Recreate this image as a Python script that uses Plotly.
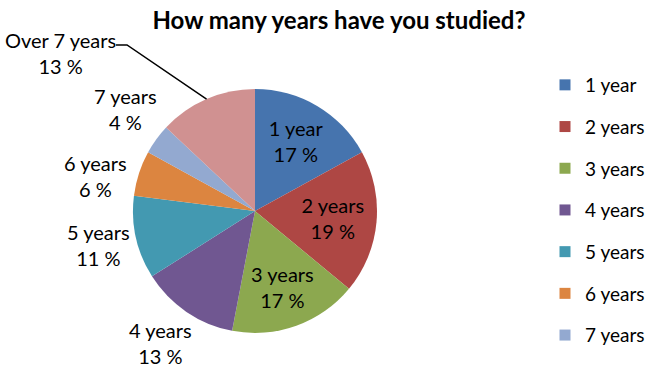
import math
import plotly.graph_objects as go

# Survey answers: share of respondents by years of study
categories = ["1 year", "2 years", "3 years", "4 years", "5 years",
              "6 years", "7 years", "Over 7 years"]
shares = [17, 19, 17, 13, 11, 6, 4, 13]
colors = ["#4674ae", "#ae4744", "#8ca84f", "#705791", "#4399b1",
          "#dc8540", "#93a9d0", "#d09191"]

W, H = 648, 368
FONT = "Lato, Carlito, Calibri, sans-serif"


def px(x):
    return x / W


def py(y):
    return 1 - y / H


# Pie geometry in pixels
cx, cy, r = 255, 211, 122

inside = {0, 1, 2}
textpos = ["inside" if i in inside else "none" for i in range(len(shares))]

fig = go.Figure()
fig.add_trace(go.Pie(
    labels=categories,
    values=shares,
    sort=False,
    direction="clockwise",
    rotation=0,
    marker=dict(colors=colors, line=dict(width=0)),
    texttemplate="%{label}<br>%{value} %",
    textposition=textpos,
    insidetextorientation="horizontal",
    textfont=dict(family=FONT, size=20, color="#000000"),
    domain=dict(x=[px(cx - r), px(cx + r)], y=[py(cy + r), py(cy - r)]),
    showlegend=False,
    hoverinfo="label+value",
))

# Legend entries (first seven categories)
for i in range(7):
    fig.add_trace(go.Scatter(
        x=[None], y=[None], mode="markers", name=categories[i],
        marker=dict(symbol="square", size=11, color=colors[i]),
        legendgroup=categories[i], showlegend=True,
    ))

# Outside data labels, positioned in pixels (centre of text block)
label_pos = {3: (160, 343), 4: (98, 245), 5: (95, 176), 6: (125, 109), 7: (60, 53)}
annotations = []
for i, (x, y) in label_pos.items():
    annotations.append(dict(
        x=px(x), y=py(y), xref="paper", yref="paper",
        text=f"{categories[i]}<br>{shares[i]} %", showarrow=False,
        font=dict(family=FONT, size=20, color="#000000"),
        xanchor="center", yanchor="middle", align="center",
    ))

# Leader line from the "Over 7 years" label to the middle of its slice edge
total = sum(shares)
start = sum(shares[:7]) / total
mid = (start + 1.0) / 2 * 2 * math.pi
ex = cx + r * math.sin(mid)
ey = cy - r * math.cos(mid)
shapes = [dict(
    type="path", xref="paper", yref="paper",
    path=f"M {px(116)},{py(45)} L {px(127)},{py(45)} L {px(ex)},{py(ey)}",
    line=dict(color="#000000", width=1.5),
)]

fig.update_layout(
    width=W, height=H,
    margin=dict(l=0, r=0, t=0, b=0, autoexpand=False),
    paper_bgcolor="#ffffff",
    plot_bgcolor="#ffffff",
    title=dict(
        text="<b>How many years have you studied?</b>",
        x=px(339), y=py(21), xanchor="center", yanchor="middle",
        font=dict(family=FONT, size=24, color="#000000"),
    ),
    xaxis=dict(visible=False),
    yaxis=dict(visible=False),
    legend=dict(
        x=px(545), y=py(66), xanchor="left", yanchor="top",
        font=dict(family=FONT, size=19, color="#000000"),
        tracegroupgap=14, itemwidth=30,
        bgcolor="rgba(0,0,0,0)",
    ),
    annotations=annotations,
    shapes=shapes,
)

fig.write_html("out.html")
